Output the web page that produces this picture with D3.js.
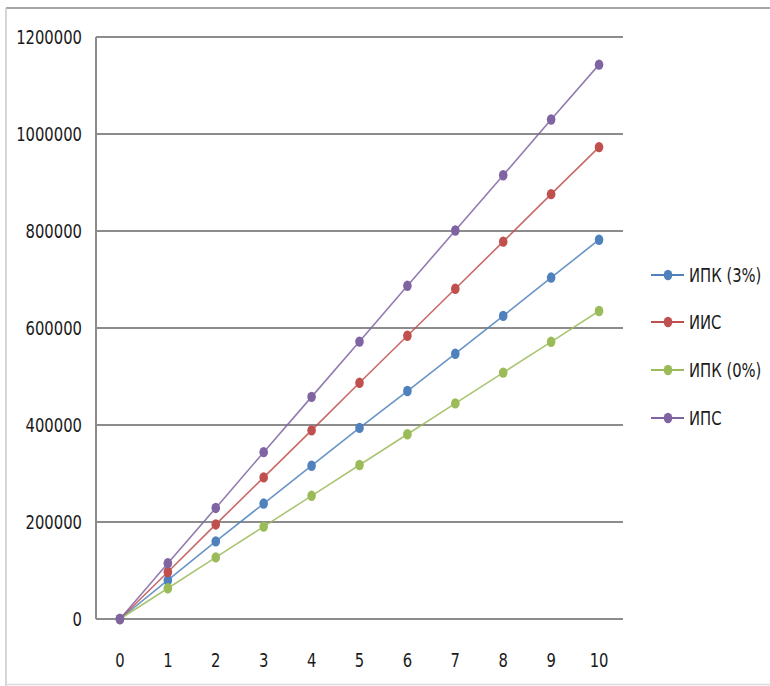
<!DOCTYPE html>
<html>
<head>
<meta charset="utf-8">
<script src="https://cdn.jsdelivr.net/npm/d3@7"></script>
<style>
  html, body { margin: 0; padding: 0; background: #ffffff; }
  svg { display: block; }
  text { font-family: "DejaVu Sans", Verdana, sans-serif; fill: #1a1a1a; }
</style>
</head>
<body>
<svg id="chart" width="770" height="686"></svg>
<script>
// Years on the horizontal axis
const years = [0, 1, 2, 3, 4, 5, 6, 7, 8, 9, 10];

// Accumulated amounts per year for each strategy
const ipk3 = [0, 80000, 160000, 238000, 316000, 394000, 470000, 547000, 625000, 704000, 782000];
const iis  = [0, 97000, 195000, 292000, 389000, 487000, 584000, 681000, 778000, 876000, 973000];
const ipk0 = [0, 63500, 127000, 190500, 254000, 317500, 381000, 444500, 508000, 571500, 635000];
const ips  = [0, 115000, 229000, 344000, 458000, 572000, 687000, 801000, 915000, 1030000, 1143000];

const seriesNames = ["ИПК (3%)", "ИИС", "ИПК (0%)", "ИПС"];
const seriesColors = ["#4F81BD", "#C0504D", "#9BBB59", "#8064A2"];
const seriesValues = [ipk3, iis, ipk0, ips];

const yTicks = [0, 200000, 400000, 600000, 800000, 1000000, 1200000];

const svg = d3.select("#chart");

// Outer frame of the chart object
svg.append("line").attr("x1", 6).attr("x2", 770).attr("y1", 8).attr("y2", 8)
  .attr("stroke", "#a6a6a6").attr("stroke-width", 2);
svg.append("line").attr("x1", 6).attr("x2", 6).attr("y1", 8).attr("y2", 686)
  .attr("stroke", "#c8c8c8").attr("stroke-width", 1.5);
svg.append("line").attr("x1", 6).attr("x2", 770).attr("y1", 684.5).attr("y2", 684.5)
  .attr("stroke", "#dcdcdc").attr("stroke-width", 1.5);

const plot = { left: 96, right: 623, top: 37, bottom: 619 };

const x = d3.scalePoint()
  .domain(years)
  .range([plot.left, plot.right])
  .padding(0.5);

const y = d3.scaleLinear()
  .domain([0, 1200000])
  .range([plot.bottom, plot.top]);

// Horizontal gridlines
svg.append("g")
  .selectAll("line")
  .data(yTicks)
  .join("line")
  .attr("x1", plot.left).attr("x2", plot.right)
  .attr("y1", d => y(d)).attr("y2", d => y(d))
  .attr("stroke", "#8c8c8c").attr("stroke-width", 2);

// Vertical axis line
svg.append("line")
  .attr("x1", plot.left).attr("x2", plot.left)
  .attr("y1", plot.top).attr("y2", plot.bottom)
  .attr("stroke", "#8c8c8c").attr("stroke-width", 2);

// Narrow, tall label text
function label(g, tx, ty, str, anchor) {
  return g.append("text")
    .attr("transform", `translate(${tx},${ty}) scale(0.74,1)`)
    .attr("text-anchor", anchor)
    .style("font-size", "20px")
    .text(str);
}

const yLabels = svg.append("g");
yTicks.forEach(t => label(yLabels, 82, y(t) + 7, String(t), "end"));

const xLabels = svg.append("g");
years.forEach(v => label(xLabels, x(v), 667, String(v), "middle"));

// Series lines and markers
const line = d3.line()
  .x((d, i) => x(years[i]))
  .y(d => y(d));

seriesValues.forEach((vals, k) => {
  const g = svg.append("g");
  g.append("path")
    .datum(vals)
    .attr("d", line)
    .attr("fill", "none")
    .attr("stroke", seriesColors[k])
    .attr("stroke-opacity", 0.85)
    .attr("stroke-width", 1.6);
  g.selectAll("ellipse")
    .data(vals)
    .join("ellipse")
    .attr("cx", (d, i) => x(years[i]))
    .attr("cy", d => y(d))
    .attr("rx", 4.3)
    .attr("ry", 5.2)
    .attr("fill", seriesColors[k]);
});

// Legend
const legend = svg.append("g");
const legendY = [275, 322, 370, 418];
seriesNames.forEach((name, k) => {
  const ly = legendY[k];
  legend.append("line")
    .attr("x1", 651).attr("x2", 684)
    .attr("y1", ly).attr("y2", ly)
    .attr("stroke", seriesColors[k]).attr("stroke-width", 2);
  legend.append("ellipse")
    .attr("cx", 668).attr("cy", ly)
    .attr("rx", 4.3).attr("ry", 5.2)
    .attr("fill", seriesColors[k]);
  label(legend, 689, ly + 7, name, "start");
});
</script>
</body>
</html>
